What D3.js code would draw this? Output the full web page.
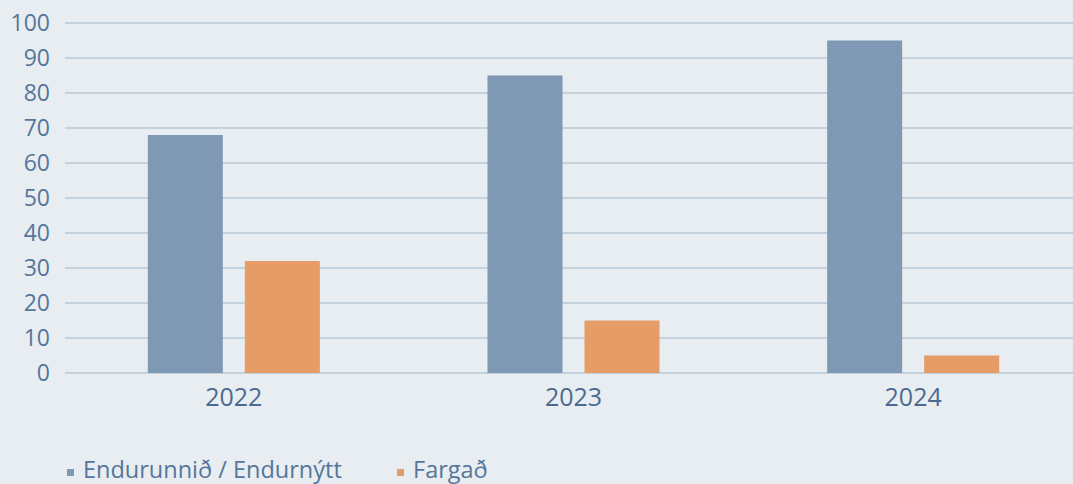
<!DOCTYPE html>
<html>
<head>
<meta charset="utf-8">
<script src="https://cdn.jsdelivr.net/npm/d3@7"></script>
<style>
  body { margin: 0; background: #e8edf1; }
  svg { display: block; font-family: "Open Sans", "Noto Sans", sans-serif; }
</style>
</head>
<body>
<div id="chart"></div>
<script>
var years = ["2022", "2023", "2024"]
var seriesNames = ["Endurunnið / Endurnýtt", "Fargað"]
var recycled = [68, 85, 95]
var disposed = [32, 15, 5]
var yTicks = [0, 10, 20, 30, 40, 50, 60, 70, 80, 90, 100]
var colors = ["#7f98b3", "#e59c66"]

var width = 1073, height = 484
var svg = d3.select("#chart").append("svg")
  .attr("width", width).attr("height", height)

svg.append("rect").attr("width", width).attr("height", height).attr("fill", "#e8edf1")

var y = d3.scaleLinear().domain([0, 100]).range([373, 23])
var x = d3.scaleBand().domain(years).range([64, 1083])
var xs = d3.scaleBand().domain(seriesNames).range([0, x.bandwidth()]).paddingInner(0.227).paddingOuter(0.864)

// gridlines
svg.append("g").selectAll("line").data(yTicks).enter().append("line")
  .attr("x1", 65).attr("x2", width)
  .attr("y1", function(d) { return y(d) }).attr("y2", function(d) { return y(d) })
  .attr("stroke", "#b9c8d7").attr("stroke-width", 1.5)

// y labels
svg.append("g").selectAll("text").data(yTicks).enter().append("text")
  .attr("x", 50).attr("y", function(d) { return y(d) })
  .attr("dy", "0.36em").attr("text-anchor", "end")
  .attr("font-size", 23).attr("fill", "#55769a")
  .text(function(d) { return d })

// bars
var rows = years.map(function(yr, i) {
  return { year: yr, values: [recycled[i], disposed[i]] }
})
var groups = svg.append("g").selectAll("g").data(rows).enter().append("g")
  .attr("transform", function(d) { return "translate(" + x(d.year) + ",0)" })
groups.selectAll("rect").data(function(d) {
  return d.values.map(function(v, j) { return { name: seriesNames[j], value: v, color: colors[j] } })
}).enter().append("rect")
  .attr("x", function(d) { return xs(d.name) })
  .attr("width", xs.bandwidth())
  .attr("y", function(d) { return y(d.value) })
  .attr("height", function(d) { return y(0) - y(d.value) })
  .attr("fill", function(d) { return d.color })

// x labels
svg.append("g").selectAll("text").data(years).enter().append("text")
  .attr("x", function(d) { return x(d) + x.bandwidth() / 2 })
  .attr("y", 406).attr("text-anchor", "middle")
  .attr("font-size", 25).attr("fill", "#4a6a8f")
  .text(function(d) { return d })

// legend
var legendX = [67, 397]
var leg = svg.append("g").selectAll("g").data(seriesNames).enter().append("g")
  .attr("transform", function(d, i) { return "translate(" + legendX[i] + ",478)" })
leg.append("rect").attr("x", 0).attr("y", -9).attr("width", 7).attr("height", 7)
  .attr("fill", function(d, i) { return colors[i] })
leg.append("text").attr("x", 16).attr("y", 0)
  .attr("font-size", 23.5).attr("fill", "#55769a")
  .text(function(d) { return d })
</script>
</body>
</html>
